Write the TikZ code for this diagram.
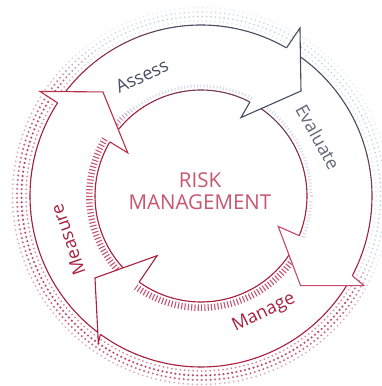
\documentclass[tikz,border=0pt]{standalone}
\usepackage{fontspec}
\setmainfont{Open Sans}
\definecolor{crim}{HTML}{A8203E}
\definecolor{slate}{HTML}{4C4C64}
\definecolor{dotred}{HTML}{B42A50}
\definecolor{dotblue}{HTML}{8090D0}
\definecolor{titlecol}{HTML}{C8566E}
\definecolor{headA}{HTML}{B83048}
\definecolor{headB}{HTML}{4A4A62}
\definecolor{headC}{HTML}{C44A6A}
\definecolor{headD}{HTML}{A82040}
\newcommand{\gradarc}[3]{%
  \foreach \gi in {0,...,35}{%
    \pgfmathsetmacro{\gsa}{#2+(#3-(#2))*\gi/36}%
    \pgfmathsetmacro{\gsb}{#2+(#3-(#2))*(\gi+1)/36}%
    \pgfmathsetmacro{\gm}{(\gsa+\gsb)/2}%
    \pgfmathsetmacro{\gp}{#1*cos(\gm)*0.5+#1*sin(\gm)*0.866}%
    \pgfmathsetmacro{\gw}{100*max(0,min(1,(\gp-40)/100))}%
    \draw[arcline, color=slate!\gw!crim] ([shift={(\gsa:#1pt)}]C) arc[start angle=\gsa, end angle=\gsb, radius=#1pt];%
  }%
}
\newcommand{\arrhead}[6]{%
  \fill[white] ([shift={(#2)}]C) -- ([shift={(#3)}]C) -- ([shift={(#4)}]C) -- ([shift={(#5)}]C) -- ([shift={(#6)}]C) -- cycle;
  \draw[headline, color=#1] ([shift={(#2)}]C) -- ([shift={(#3)}]C) -- ([shift={(#4)}]C) -- ([shift={(#5)}]C) -- ([shift={(#6)}]C);
}
\begin{document}
\begin{tikzpicture}[x=1pt,y=1pt,
  arcline/.style={line width=1.1pt, line cap=round},
  headline/.style={line width=1.1pt, line join=miter},
  lab/.style={font=\fontsize{18}{21}\selectfont, inner sep=0pt},
  title/.style={font=\fontsize{20.5}{24}\selectfont, color=titlecol, inner sep=0pt}]
\useasboundingbox (0,0) rectangle (381,386);
\fill[white] (0,0) rectangle (381,386);
\coordinate (C) at (201,190);
% outer halftone ring
\foreach \r/\op/\ds in {175/0.55/1.0,179.5/0.85/1.2,184/0.7/1.15,188.5/0.4/1.0}{
  \foreach \a in {0,1.4,...,358.7}{
    \pgfmathsetmacro{\an}{\a>180 ? \a-360 : \a}
    \pgfmathsetmacro{\bw}{max(0,min(1,min((\an+35)/15,(145-\an)/20)))}
    \pgfmathsetmacro{\rw}{100*(1-\bw)}
    \pgfmathsetmacro{\opa}{\op*(1-0.45*\bw)}
    \pgfmathsetmacro{\dsz}{\ds*(1-0.25*\bw)}
    \fill[dotred!\rw!dotblue, opacity=\opa] ([shift={(\a:\r pt)}]C) circle[radius=\dsz pt];
  }
}
% inner tick ring
\foreach \a in {0,1.7,...,358.4}{
  \pgfmathsetmacro{\an}{\a>180 ? \a-360 : \a}
  \pgfmathsetmacro{\bw}{max(0,min(1,min((\an+35)/15,(145-\an)/20)))}
  \pgfmathsetmacro{\rw}{100*(1-\bw)}
  \pgfmathsetmacro{\opa}{0.8*(1-0.6*\bw)}
  \pgfmathsetmacro{\tl}{115-3.5*\bw}
  \draw[dotred!\rw!dotblue, opacity=\opa, line width=1.1pt] ([shift={(\a:108.5pt)}]C) -- ([shift={(\a:\tl pt)}]C);
}
% bands
\gradarc{171}{234}{147}
\gradarc{106}{234.3}{149.3}
\gradarc{171}{147}{60}
\gradarc{106}{149.3}{62.5}
\gradarc{171}{60}{-27.8}
\gradarc{106}{62.5}{-22}
\gradarc{171}{-27.8}{-126}
\gradarc{106}{-22}{-125.7}
% heads
\arrhead{headA}{147:171pt}{147:192pt}{133.3:143pt}{149.5:85pt}{149.3:106pt}
\arrhead{headB}{60:171pt}{59.5:195pt}{46.4:145pt}{63:88pt}{62.5:106pt}
\arrhead{headC}{-27.8:171pt}{-28.8:186pt}{-42:134pt}{-21.5:83pt}{-22:106pt}
\arrhead{headD}{234:171pt}{235:179pt}{217.7:134pt}{233.7:74pt}{234.3:106pt}
% labels
\node[lab, color=slate, rotate=25] (assess) at (142,310) {Assess};
\node[lab, color=slate!85!white, rotate=-61] (evaluate) at (318,249) {Evaluate};
\node[lab, color=crim, rotate=109] (measure) at (68,146) {Measure};
\node[lab, color=crim, rotate=26] (manage) at (264,73) {Manage};
\node[title] (risk) at (200,206) {RISK};
\node[title] (mgmt) at (200,183.5) {MANAGEMENT};
\end{tikzpicture}
\end{document}
